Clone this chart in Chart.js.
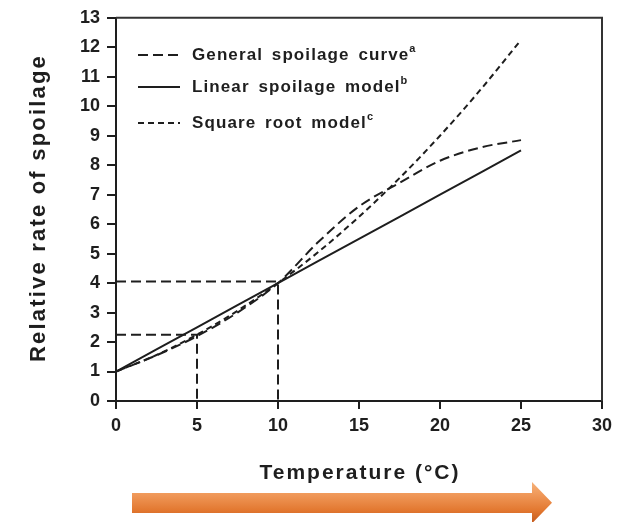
<!DOCTYPE html>
<html>
<head>
<meta charset="utf-8">
<script src="https://cdn.jsdelivr.net/npm/chart.js@4/dist/chart.umd.min.js"></script>
<style>
html,body{margin:0;padding:0;background:#fff;}
#wrap{position:relative;width:633px;height:522px;}
</style>
</head>
<body>
<div id="wrap"><canvas id="c" width="633" height="522"></canvas></div>
<script>
// ---- data ----
const temps = [0, 2.5, 5, 7.5, 10, 12.5, 15, 17.5, 20, 22.5, 25];
const generalCurve = [1, 1.55, 2.2, 3.0, 4.0, 5.4, 6.6, 7.4, 8.15, 8.6, 8.85];
const linearModel = [1, 1.75, 2.5, 3.25, 4.0, 4.75, 5.5, 6.25, 7.0, 7.75, 8.5];
const sqrtModel = [1, 1.56, 2.25, 3.06, 4.0, 5.06, 6.25, 7.56, 9.0, 10.56, 12.25];
const refTemps = [5, 10];
const refRates = [2.25, 4.05];
const seriesNames = ['General spoilage curve', 'Linear spoilage model', 'Square root model'];
const seriesNotes = ['a', 'b', 'c'];
const xTitle = 'Temperature (°C)';
const yTitle = 'Relative rate of spoilage';

const INK = '#1e1e1e';
const dashes = [[10, 5], [], [6, 4]];
const toXY = (xs, ys) => xs.map((x, i) => ({x: x, y: ys[i]}));

const datasets = [
  {label: seriesNames[0], data: toXY(temps, generalCurve), borderDash: dashes[0]},
  {label: seriesNames[1], data: toXY(temps, linearModel), borderDash: dashes[1]},
  {label: seriesNames[2], data: toXY(temps, sqrtModel), borderDash: dashes[2]}
].map(d => Object.assign(d, {borderColor: INK, borderWidth: 2, pointRadius: 0, fill: false, cubicInterpolationMode: 'monotone'}));

refTemps.forEach((t, i) => {
  datasets.push({
    label: 'ref' + i,
    data: [{x: 0, y: refRates[i]}, {x: t, y: refRates[i]}, {x: t, y: 0}],
    borderColor: INK, borderWidth: 2, borderDash: [10, 5], pointRadius: 0, fill: false, tension: 0
  });
});

const decor = {
  id: 'decor',
  afterDraw(chart) {
    const ctx = chart.ctx, a = chart.chartArea;
    ctx.save();
    // top and right frame
    ctx.strokeStyle = '#333'; ctx.lineWidth = 2;
    ctx.beginPath();
    ctx.moveTo(a.left, a.top); ctx.lineTo(a.right, a.top); ctx.lineTo(a.right, a.bottom);
    ctx.stroke();

    // legend
    const rows = [55, 87, 123];
    ctx.fillStyle = INK; ctx.strokeStyle = INK;
    rows.forEach((y, i) => {
      ctx.lineWidth = 2;
      ctx.setLineDash(dashes[i]);
      ctx.beginPath(); ctx.moveTo(a.left + 22, y); ctx.lineTo(a.left + 64, y); ctx.stroke();
      ctx.setLineDash([]);
      ctx.font = 'bold 17px "Liberation Sans", Arial, sans-serif';
      ctx.letterSpacing = '1.1px';
      ctx.wordSpacing = '3px';
      ctx.textBaseline = 'middle'; ctx.textAlign = 'left';
      ctx.fillText(seriesNames[i], a.left + 76, y);
      const w = ctx.measureText(seriesNames[i]).width;
      ctx.font = 'bold 11px "Liberation Sans", Arial, sans-serif';
      ctx.letterSpacing = '0px';
      ctx.wordSpacing = '0px';
      ctx.fillText(seriesNotes[i], a.left + 76 + w, y - 6);
    });

    // axis titles
    ctx.font = 'bold 21px "Liberation Sans", Arial, sans-serif';
    ctx.letterSpacing = '2px';
    ctx.textAlign = 'center'; ctx.textBaseline = 'alphabetic';
    ctx.fillText(xTitle, 360, 479);
    ctx.save();
    ctx.translate(45, 208);
    ctx.rotate(-Math.PI / 2);
    ctx.font = 'bold 22px "Liberation Sans", Arial, sans-serif';
    ctx.letterSpacing = '2.2px';
    ctx.fillText(yTitle, 0, 0);
    ctx.restore();
    ctx.letterSpacing = '0px';

    // orange arrow
    const g = ctx.createLinearGradient(0, 482, 0, 523);
    g.addColorStop(0, '#f6b27a');
    g.addColorStop(0.3, '#f0995a');
    g.addColorStop(0.7, '#e2772f');
    g.addColorStop(1, '#c45a1c');
    ctx.fillStyle = g;
    ctx.beginPath();
    ctx.moveTo(132, 493); ctx.lineTo(532, 493); ctx.lineTo(532, 482);
    ctx.lineTo(552, 502.7); ctx.lineTo(532, 523.4); ctx.lineTo(532, 513);
    ctx.lineTo(132, 513); ctx.closePath(); ctx.fill();
    ctx.restore();
  }
};

const tickFont = {family: '"Liberation Sans", Arial, sans-serif', size: 18, weight: 'bold'};

new Chart(document.getElementById('c'), {
  type: 'line',
  data: {datasets: datasets},
  options: {
    responsive: false,
    animation: false,
    layout: {padding: {top: 14, right: 31, left: 0, bottom: 0}},
    plugins: {legend: {display: false}, tooltip: {enabled: false}},
    scales: {
      x: {
        type: 'linear', min: 0, max: 30,
        ticks: {stepSize: 5, color: INK, font: tickFont, padding: 6, maxRotation: 0},
        grid: {drawOnChartArea: false, drawTicks: true, tickLength: 8, color: INK, lineWidth: 2},
        border: {display: true, color: INK, width: 2},
        afterFit(s) { s.height = 121; }
      },
      y: {
        type: 'linear', min: 0, max: 13,
        ticks: {stepSize: 1, color: INK, font: tickFont, padding: 7},
        grid: {drawOnChartArea: false, drawTicks: true, tickLength: 9, color: INK, lineWidth: 2},
        border: {display: true, color: INK, width: 2},
        afterFit(s) { s.width = 116; }
      }
    }
  },
  plugins: [decor]
});
</script>
</body>
</html>
